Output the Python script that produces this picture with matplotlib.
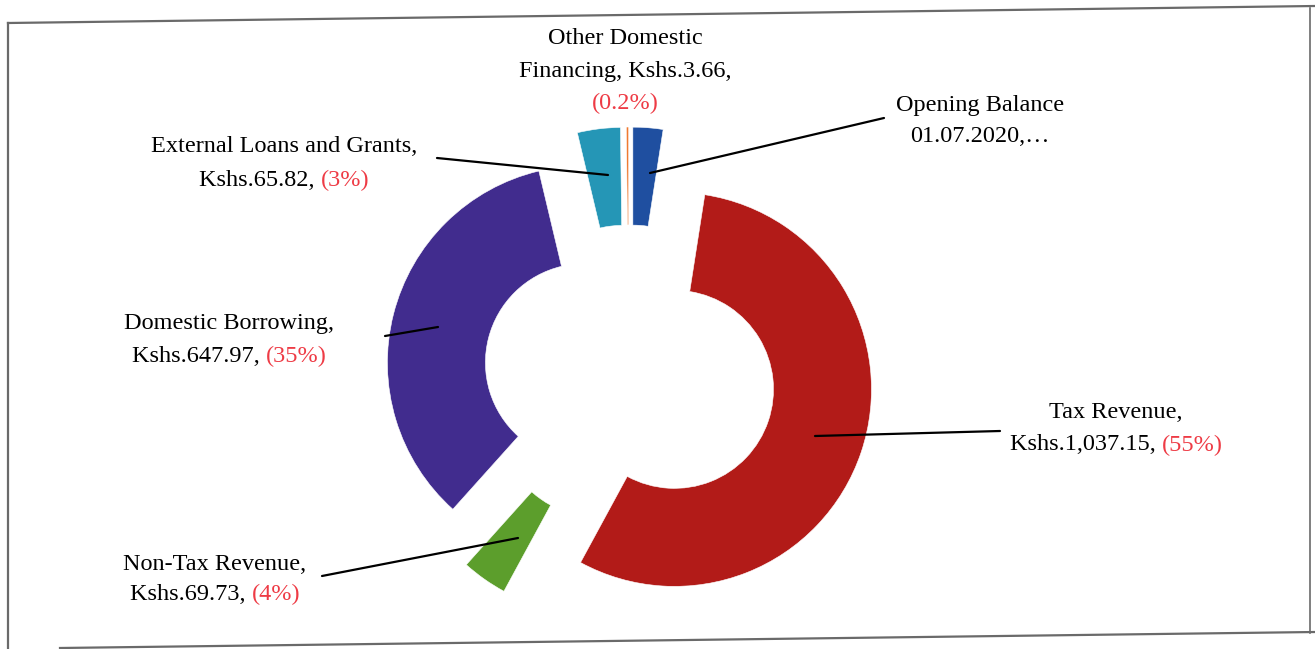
import matplotlib
matplotlib.use("Agg")
import matplotlib.pyplot as plt

# ---------------- data ----------------
categories = ["Opening Balance 01.07.2020", "Tax Revenue", "Non-Tax Revenue",
              "Domestic Borrowing", "External Loans and Grants", "Other Domestic Financing"]
values = [46.0, 1037.15, 69.73, 647.97, 65.82, 3.66]
amount_labels = ["01.07.2020,\u2026", "Kshs.1,037.15,", "Kshs.69.73,", "Kshs.647.97,",
                 "Kshs.65.82,", "Kshs.3.66,"]
pct_labels = ["", "(55%)", "(4%)", "(35%)", "(3%)", "(0.2%)"]
colors = ["#1F4FA0", "#B21B18", "#5C9E2C", "#412C8E", "#2596B6", "#F07A30"]

W, H = 1315, 649
fig = plt.figure(figsize=(W / 100, H / 100), dpi=100)
ax = fig.add_axes([0, 0, 1, 1])

def Y(y):
    return H - y

R_out = 197
ring = 98
explode = [50, 48, 54, 46, 50, 50]   # offsets in data units
ax.pie(values, colors=colors, startangle=90, counterclock=False,
       radius=R_out, center=(629, Y(374)), explode=explode, frame=True,
       wedgeprops=dict(width=ring, edgecolor="white", linewidth=0.4))
ax.set_xlim(0, W)
ax.set_ylim(0, H)
ax.set_aspect("equal")
ax.axis("off")

# border (scanned frame)
bc = "#6a6a6a"
ax.plot([8, 1315], [Y(23), Y(6)], color=bc, lw=1.6)
ax.plot([8, 8], [Y(23), Y(649)], color=bc, lw=1.6)
ax.plot([60, 1315], [Y(648), Y(632)], color=bc, lw=1.6)
ax.plot([1310, 1310], [Y(8), Y(633)], color=bc, lw=1.2)

# leader lines
leaders = [
    [(650, 173), (884, 118)],   # opening balance
    [(815, 436), (1000, 431)],  # tax revenue
    [(518, 538), (322, 576)],   # non-tax
    [(438, 327), (385, 336)],   # domestic borrowing
    [(608, 175), (437, 158)],   # external loans
]
for (x0, y0), (x1, y1) in leaders:
    ax.plot([x0, x1], [Y(y0), Y(y1)], color="black", lw=1.6, solid_capstyle="round")

FONT = ["Liberation Serif", "DejaVu Serif"]
FS = 17.5
RED = "#EE3B45"

labels = [
    (625, [(39, [("Other Domestic", "black")]),
           (72, [("Financing, " + amount_labels[5], "black")]),
           (103, [(pct_labels[5], RED)])]),
    (980, [(105, [("Opening Balance", "black")]),
           (137, [(amount_labels[0], "black")])]),
    (284, [(146, [("External Loans and Grants,", "black")]),
           (180, [(amount_labels[4] + " ", "black"), (pct_labels[4], RED)])]),
    (229, [(324, [("Domestic Borrowing,", "black")]),
           (356, [(amount_labels[3] + " ", "black"), (pct_labels[3], RED)])]),
    (215, [(564, [("Non-Tax Revenue,", "black")]),
           (594, [(amount_labels[2] + " ", "black"), (pct_labels[2], RED)])]),
    (1116, [(413, [("Tax Revenue,", "black")]),
            (445, [(amount_labels[1] + " ", "black"), (pct_labels[1], RED)])]),
]

fig.canvas.draw()
rend = fig.canvas.get_renderer()
for xc, lines in labels:
    for y, parts in lines:
        objs = []
        for txt, col in parts:
            t = ax.text(0, Y(y), txt, color=col, fontsize=FS, family=FONT,
                        ha="left", va="center")
            objs.append(t)
        widths = [o.get_window_extent(rend).width for o in objs]
        total = sum(widths)
        x = xc - total / 2
        for o, w in zip(objs, widths):
            o.set_x(x)
            x += w

fig.savefig("out.png", dpi=100)
